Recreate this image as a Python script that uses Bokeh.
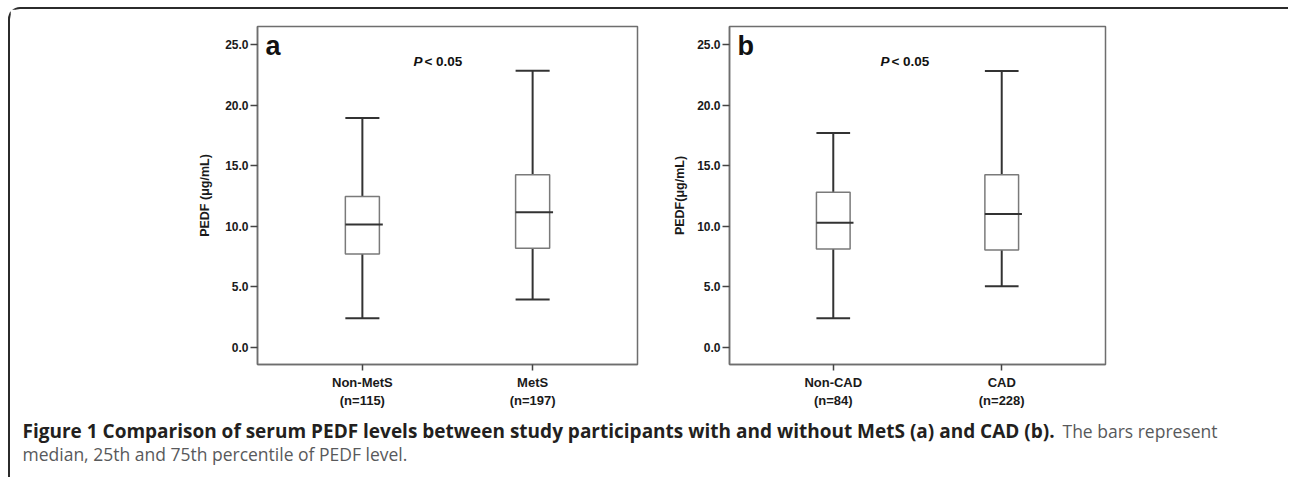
import numpy as np
from bokeh.plotting import figure
from bokeh.models import Range1d, FixedTicker, NumeralTickFormatter
from bokeh.layouts import column, row
from bokeh.embed import file_html
from bokeh.resources import INLINE
from bokeh.core.properties import value

# ---------------- data ----------------
# Panel a: MetS
cats_a = ["Non-MetS\n(n=115)", "MetS\n(n=197)"]
low_a = [2.42, 3.96]
q1_a = [7.73, 8.19]
med_a = [10.15, 11.16]
q3_a = [12.46, 14.27]
high_a = [18.95, 22.85]

# Panel b: CAD
cats_b = ["Non-CAD\n(n=84)", "CAD\n(n=228)"]
low_b = [2.42, 5.06]
q1_b = [8.14, 8.06]
med_b = [10.31, 11.03]
q3_b = [12.81, 14.27]
high_b = [17.71, 22.83]

y_ticks = [0, 5, 10, 15, 20, 25]
p_text = "< 0.05"

DARK = "#333333"
BOXLINE = "#7a7a7a"
FRAME = "#6e6e6e"
FONT = "Liberation Sans"
BW = 0.2


def panel(cats, low, q1, med, q3, high, letter, ylabel, width, mbl, mbr, lab_standoff, px):
    x = np.arange(1, len(cats) + 1, dtype=float)
    p = figure(width=width, height=402, x_range=Range1d(0.384, 2.616),
               y_range=Range1d(-1.4, 26.5), output_backend="svg", toolbar_location=None,
               min_border_left=mbl, min_border_right=mbr, min_border_top=17,
               min_border_bottom=47)
    p.grid.visible = False
    p.outline_line_color = FRAME
    p.outline_line_width = 1.5
    p.border_fill_color = "white"
    p.background_fill_color = "white"

    # whiskers
    p.segment(x, q3, x, high, line_color=DARK, line_width=2)
    p.segment(x, low, x, q1, line_color=DARK, line_width=2)
    p.segment(x - BW / 2, high, x + BW / 2, high, line_color=DARK, line_width=2)
    p.segment(x - BW / 2, low, x + BW / 2, low, line_color=DARK, line_width=2)
    # boxes
    p.vbar(x=x, bottom=q1, top=q3, width=BW, fill_color="white",
           line_color=BOXLINE, line_width=1.5)
    p.segment(x - BW / 2, med, x + BW / 2 + 0.02, med, line_color=DARK, line_width=2)

    # axes
    p.xaxis.ticker = FixedTicker(ticks=list(x))
    p.xaxis.major_label_overrides = {float(xi): c for xi, c in zip(x, cats)}
    p.yaxis.ticker = FixedTicker(ticks=y_ticks)
    p.yaxis.formatter = NumeralTickFormatter(format="0.0")
    for ax in (p.xaxis, p.yaxis):
        ax.axis_line_color = FRAME
        ax.axis_line_width = 1.5
        ax.major_tick_line_color = "#444444"
        ax.major_tick_line_width = 1.5
        ax.major_tick_in = 0
        ax.minor_tick_line_color = None
        ax.major_label_text_font = FONT
        ax.major_label_text_font_style = "bold"
        ax.major_label_text_color = "#1a1a1a"
    p.yaxis.major_label_text_font_size = "12px"
    p.xaxis.major_label_text_font_size = "13px"
    p.yaxis.major_tick_out = 7
    p.yaxis.major_label_standoff = 2
    p.xaxis.major_tick_out = 6
    p.xaxis.major_label_standoff = 4
    p.yaxis.axis_label = ylabel
    p.yaxis.axis_label_text_font = FONT
    p.yaxis.axis_label_text_font_style = "bold"
    p.yaxis.axis_label_text_font_size = "12.5px"
    p.yaxis.axis_label_text_color = "#1a1a1a"
    p.yaxis.axis_label_standoff = lab_standoff

    # panel letter and p-value
    p.text(x=[0.431], y=[24.9], text=[letter], text_font=value(FONT),
           text_font_style="bold", text_font_size="27px", text_color="#111111",
           text_align="left", text_baseline="alphabetic")
    p.text(x=[px], y=[23.65], text=["P"], text_font=value(FONT),
           text_font_style="bold italic", text_font_size="13.5px", text_color="#111111",
           text_align="left", text_baseline="alphabetic")
    p.text(x=[px], y=[23.65], text=[p_text], text_font=value(FONT), x_offset=11,
           text_font_style="bold", text_font_size="13.5px", text_color="#111111",
           text_align="left", text_baseline="alphabetic")
    return p


pa = panel(cats_a, low_a, q1_a, med_a, q3_a, high_a, "a", "PEDF (\u03bcg/mL)",
           657, 247, 30, 10, 1.300)
pb = panel(cats_b, low_b, q1_b, med_b, q3_b, high_b, "b", "PEDF(\u03bcg/mL)",
           621, 62, 183, 7, 1.280)

cap = figure(width=1278, height=66, x_range=Range1d(0, 1278), y_range=Range1d(66, 0),
             output_backend="svg", toolbar_location=None, min_border=0)
cap.axis.visible = False
cap.grid.visible = False
cap.outline_line_color = None
cap.text(x=[12], y=[19], text=["Figure 1 Comparison of serum PEDF levels between study participants with and without MetS (a) and CAD (b)."],
         text_font=value("Open Sans"), text_font_style="bold", text_font_size="19px",
         text_color="#231f20", text_align="left", text_baseline="middle")
cap.text(x=[1052], y=[19], text=["The bars represent"],
         text_font=value("Open Sans"), text_font_size="17.5px",
         text_color="#58595b", text_align="left", text_baseline="middle")
cap.text(x=[12], y=[42], text=["median, 25th and 75th percentile of PEDF level."],
         text_font=value("Open Sans"), text_font_size="17.5px",
         text_color="#58595b", text_align="left", text_baseline="middle")

layout = column(row(pa, pb), cap, margin=(7, 0, 0, 8),
                styles={"border-top": "2px solid #2b2b2b",
                        "border-left": "2px solid #2b2b2b",
                        "border-top-left-radius": "12px"})

open("out.html", "w").write(file_html(layout, INLINE))
